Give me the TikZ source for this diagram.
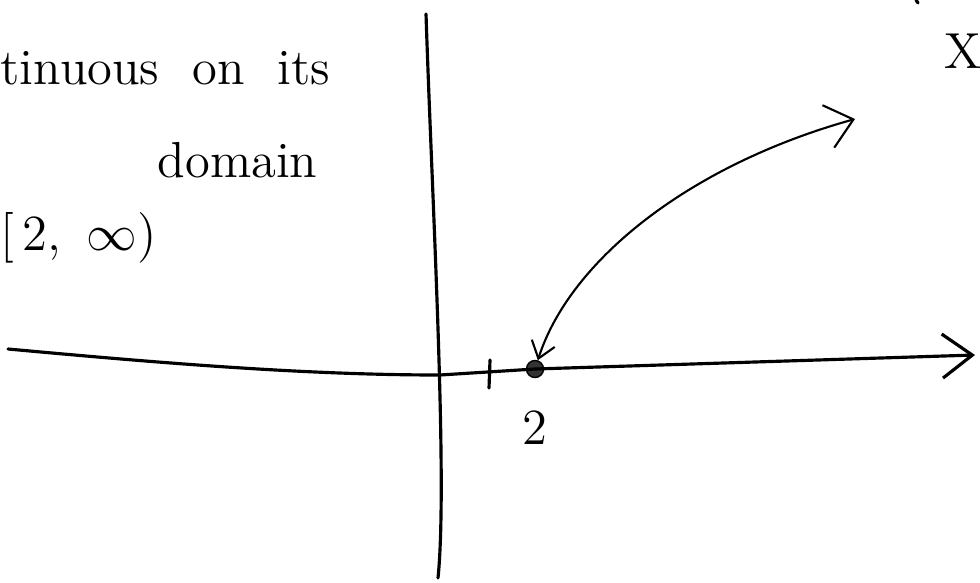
\documentclass[tikz,border=0pt]{standalone}
\usetikzlibrary{arrows.meta,positioning}
\begin{document}
\begin{tikzpicture}[
  x=0.01cm, y=-0.01cm,
  lbl/.style={font=\Large, inner sep=0pt, anchor=base west},
  axis/.style={line width=0.9pt, line cap=round},
  arr/.style={line width=0.6pt, {Straight Barb[length=1.6mm,width=2.4mm]}-{Straight Barb[length=2.6mm,width=4.4mm]}},
  pt/.style={circle, fill=black!80, draw=black, minimum size=1.7mm, inner sep=0pt}
]
  \useasboundingbox (0,0) rectangle (980,582);
  % text
  \node[lbl] (cont) at (0,85) {tinuous \ on \ its};
  \node[lbl] (dom) at (157,177) {domain};
  \node[lbl] (intv) at (0,250) {$[\,2,\ \infty)$};
  \node[lbl, anchor=center] (xlab) at (963,51) {X};
  % axes
  \coordinate (o) at (440,375);
  \coordinate (xl) at (8,349);
  \coordinate (xr) at (975,355);
  \coordinate (yt) at (426,14);
  \coordinate (yb) at (438,578);
  \node[pt] (two) at (535,369) {};
  \node[font=\Large, below=2mm of two] (twolab) {2};
  \draw[axis] (yt) .. controls (432,200) and (448,480) .. (yb);
  \draw[axis, -{Straight Barb[length=3mm,width=4.4mm]}] (xl) .. controls (150,362) and (300,375) .. (o) -- (two.center) -- (xr);
  % tick at 1
  \coordinate (t1) at (490,360);
  \coordinate (t1b) at (489,388);
  \draw[axis] (t1) -- (t1b);
  % the function
  \coordinate (fend) at (855,119);
  \draw[arr] (two) .. controls (570,260) and (690,165) .. (fend);
  % mark at the top edge
  \coordinate (m1) at (916,0);
  \coordinate (m2) at (918,3);
  \draw[axis] (m1) -- (m2);
\end{tikzpicture}
\end{document}
